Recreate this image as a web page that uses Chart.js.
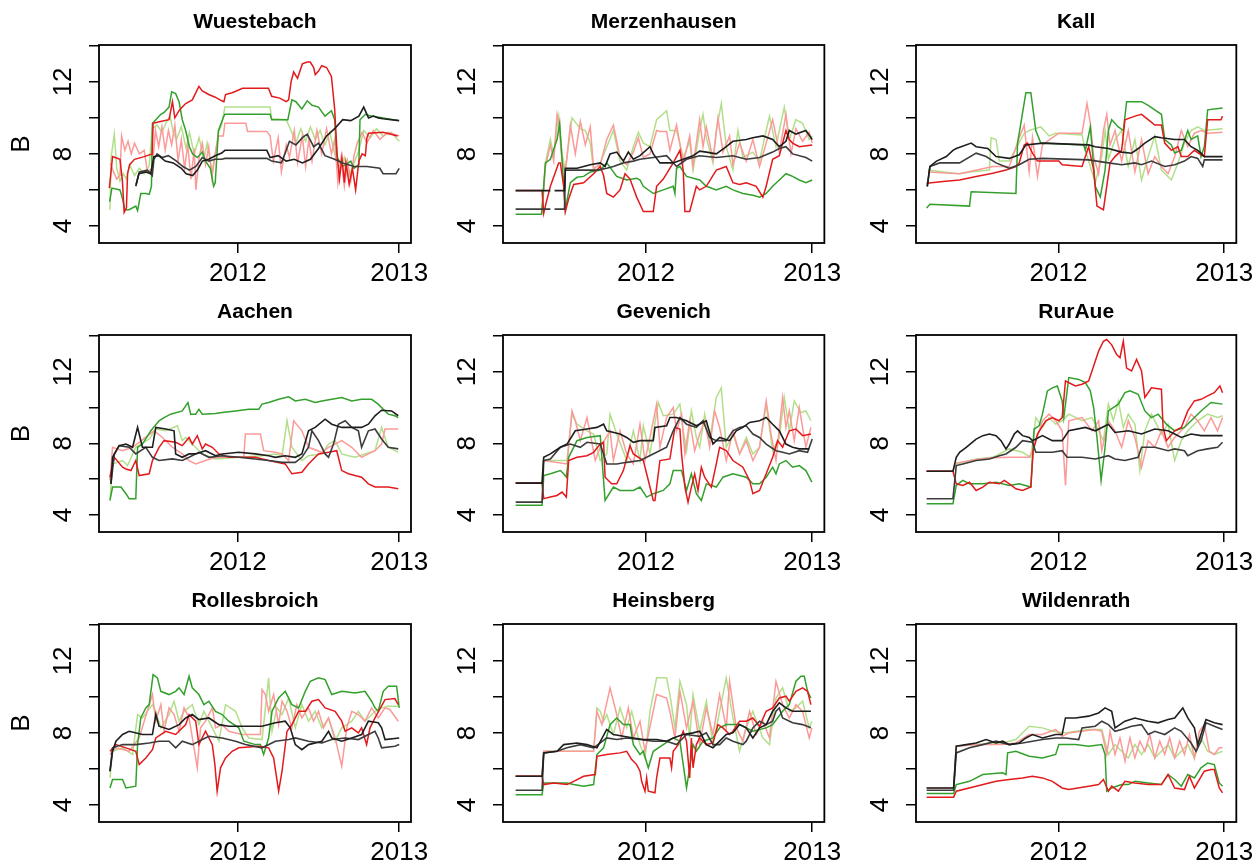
<!DOCTYPE html>
<html>
<head>
<meta charset="utf-8">
<script src="https://cdn.jsdelivr.net/npm/chart.js@4"></script>
<style>
  body { margin: 0; background: #fff; width: 1259px; height: 865px; overflow: hidden; position: relative; }
  canvas { position: absolute; }
</style>
</head>
<body>
<script>
// x values are years after 2011, y values are B; pairs [t, B, t, B, ...]; null = gap
const YEAR0 = 2011;
const sites = ["Wuestebach", "Merzenhausen", "Kall", "Aachen", "Gevenich", "RurAue", "Rollesbroich", "Heinsberg", "Wildenrath"];
const xTicks = [2012, 2013];
const yTicks = [4, 6, 8, 10, 12, 14];
const yLabels = [4, 8, 12];

// Wuestebach
const wueK1 = [.368,6.2, .387,6.9, .43,7.0, .46,6.9, .48,7.85, .51,7.9, .55,7.6, .6,7.5, .65,7.2, .68,6.9, .72,6.8, .75,7.1, .78,7.6, .82,7.7, .86,7.9, .9,8.05, .92,8.2, 1.18,8.2, 1.2,7.8, 1.25,7.9, 1.3,7.6, 1.35,7.7, 1.4,7.5, 1.45,7.7, 1.5,8.3, 1.55,9.0, 1.6,9.4, 1.65,9.9, 1.7,9.85, 1.75,10.1, 1.78,10.6, 1.81,10.0, 1.84,10.1, 1.87,10.0, 1.9,9.95, 2.0,9.85];
const wueK2 = [.37,6.3, .39,7.0, .44,7.1, .47,6.8, .48,7.7, .5,8.0, .53,7.8, .57,7.9, .62,7.6, .66,7.3, .7,7.1, .74,7.3, .78,7.8, .82,7.6, .86,7.7, .9,7.7, .92,7.75, 1.18,7.75, 1.21,7.6, 1.27,7.5, 1.3,8.2, 1.32,8.7, 1.36,8.5, 1.4,8.9, 1.43,9.1, 1.47,8.4, 1.5,8.6, 1.54,7.9, 1.6,7.7, 1.65,7.5, 1.72,7.3, 1.8,7.3, 1.88,7.2, 1.9,6.9, 1.98,6.9, 2.0,7.2];
const wueRed = [.204,6.1, .224,7.85, .27,7.7, .285,6.5, .296,4.75, .31,5.0, .317,6.9, .33,7.4, .36,7.7, .42,7.85, .47,8.0, .475,9.7, .52,9.8, .574,9.9, .595,10.9, .61,10.0, .636,10.4, .656,10.6, .677,10.8, .718,11.0, .759,11.75, .78,11.5, .82,11.3, .86,11.15, .9,10.95, .914,10.9, .924,11.3, .965,11.4, 1.03,11.65, 1.19,11.65, 1.21,11.2, 1.26,11.1, 1.3,10.9, 1.315,11.0, 1.33,12.0, 1.346,12.55, 1.37,12.2, 1.4,13.0, 1.43,13.1, 1.449,13.1, 1.47,12.8, 1.48,12.4, 1.5,12.6, 1.52,12.9, 1.55,12.8, 1.58,12.3, 1.6,10.5, 1.615,8.0, 1.63,6.6, 1.645,7.8, 1.66,6.4, 1.67,7.5, 1.69,6.3, 1.71,7.2, 1.73,6.0, 1.75,7.6, 1.77,8.0, 1.79,7.9, 1.8,8.9, 1.81,9.15, 1.9,9.2, 1.99,9.0];
const wueGreen = [.206,5.35, .22,6.1, .27,6.0, .286,5.5, .3,4.9, .327,4.9, .368,5.1, .379,4.85, .399,5.8, .43,5.8, .451,5.75, .465,6.2, .471,9.7, .492,9.9, .523,10.2, .543,10.3, .574,10.6, .59,11.45, .615,11.35, .636,10.9, .656,9.9, .677,9.3, .7,8.4, .72,8.0, .75,7.8, .78,8.1, .8,7.6, .83,7.2, .85,6.2, .86,6.4, .88,9.3, .914,10.1, .92,10.2, 1.2,10.2, 1.21,9.9, 1.31,9.9, 1.335,11.0, 1.36,10.9, 1.397,10.5, 1.43,10.95, 1.46,10.7, 1.5,10.6, 1.54,10.1, 1.58,10.4, 1.6,9.9, 1.615,7.8, 1.65,7.3, 1.7,7.6, 1.72,7.2, 1.75,7.4, 1.757,9.9, 1.79,10.2, 1.83,10.1, 1.9,10.0, 1.99,9.85];
const wuePink = [.21,7.5, .23,7.0, .25,6.6, .27,6.8, .28,9.0, .3,8.2, .32,8.7, .34,8.0, .36,8.6, .39,8.0, .42,8.2, .44,7.0, .47,7.2, .49,9.3, .51,8.4, .53,9.5, .55,8.2, .57,9.3, .59,8.5, .61,9.6, .63,7.6, .65,8.8, .67,7.2, .69,8.5, .71,6.6, .73,8.3, .74,6.0, .76,7.8, .78,8.6, .8,7.4, .82,8.4, .84,6.7, .86,8.0, .88,9.0, .91,9.0, .92,9.7, 1.05,9.7, 1.06,9.25, 1.18,9.25, 1.2,9.0, 1.22,7.6, 1.25,8.9, 1.27,7.0, 1.3,8.5, 1.32,7.8, 1.35,9.3, 1.37,7.5, 1.4,9.0, 1.42,7.3, 1.44,8.8, 1.46,7.6, 1.49,9.3, 1.52,8.0, 1.55,9.4, 1.58,8.0, 1.6,8.8, 1.62,6.4, 1.64,7.8, 1.66,6.2, 1.68,7.6, 1.7,6.5, 1.72,7.9, 1.74,8.6, 1.77,9.2, 1.8,8.6, 1.84,9.3, 1.88,8.8, 1.93,9.2, 2.0,9.0];
const wueLight = [.208,4.9, .215,7.8, .235,9.1, .25,7.2, .27,6.5, .29,6.9, .31,6.6, .33,7.4, .36,6.8, .39,7.2, .42,6.9, .45,7.3, .47,9.4, .5,9.6, .53,9.2, .56,9.8, .58,10.1, .6,9.2, .62,8.8, .65,9.5, .68,8.3, .7,9.2, .73,8.0, .76,8.9, .79,7.7, .81,8.6, .84,7.0, .86,8.0, .88,9.2, .9,9.6, .92,10.6, 1.2,10.6, 1.21,9.95, 1.3,9.9, 1.33,9.3, 1.36,8.6, 1.39,9.4, 1.42,8.7, 1.45,9.5, 1.48,8.8, 1.51,9.3, 1.54,8.5, 1.57,9.2, 1.6,8.0, 1.63,7.0, 1.66,7.8, 1.69,6.8, 1.72,7.5, 1.75,8.2, 1.78,9.3, 1.82,8.9, 1.86,9.4, 1.9,9.0, 1.95,9.2, 2.0,8.7];

// Merzenhausen
const merK1 = [.216,5.96, .425,5.96, .437,null, .45,5.96, .51,5.96, .515,7.2, .585,7.2, .665,7.4, .725,7.5, .754,7.3, .784,8.0, .824,8.1, .864,7.6, .894,8.1, .924,7.7, .964,7.9, 1.024,8.4, 1.044,8.0, 1.084,7.5, 1.164,7.5, 1.224,7.7, 1.283,7.9, 1.323,8.15, 1.363,8.1, 1.423,8.0, 1.483,8.4, 1.523,8.7, 1.603,8.8, 1.643,8.9, 1.703,9.0, 1.762,8.8, 1.802,8.4, 1.842,8.7, 1.862,9.3, 1.902,9.1, 1.962,9.3, 2.0,8.8];
const merK2 = [.216,4.93, .425,4.93, .437,null, .45,4.93, .51,4.93, .515,7.1, .565,7.1, .705,7.1, .764,7.2, .804,7.3, .864,7.5, .924,7.6, .964,7.7, 1.044,7.8, 1.124,7.9, 1.184,7.3, 1.244,7.7, 1.323,7.9, 1.423,7.8, 1.523,7.9, 1.603,7.7, 1.683,7.8, 1.762,8.1, 1.802,8.3, 1.842,8.4, 1.882,8.0, 1.962,7.8, 2.0,7.6];
const merRed = [.216,5.96, .375,5.96, .385,4.7, .4,5.3, .425,6.2, .475,7.5, .485,7.5, .505,6.2, .515,4.8, .535,5.5, .565,6.3, .625,6.4, .685,6.9, .725,7.3, .745,6.8, .764,5.8, .804,5.6, .844,6.0, .874,6.9, .904,6.6, .944,5.6, .964,5.2, .984,4.8, 1.044,4.8, 1.064,6.2, 1.104,6.6, 1.164,7.5, 1.204,8.2, 1.224,7.1, 1.234,4.8, 1.263,4.8, 1.303,6.2, 1.323,6.0, 1.363,6.2, 1.423,7.1, 1.483,7.3, 1.523,6.4, 1.563,6.3, 1.603,6.4, 1.663,6.2, 1.703,5.6, 1.723,6.2, 1.762,7.7, 1.802,7.9, 1.842,9.3, 1.862,8.8, 1.882,8.6, 1.922,8.4, 2.0,8.5];
const merGreen = [.216,4.65, .372,4.65, .395,7.5, .425,7.7, .465,8.8, .481,9.7, .515,4.9, .545,6.4, .585,6.7, .625,6.75, .665,7.0, .725,7.1, .764,7.5, .824,6.75, .884,6.55, .944,6.65, .964,6.55, .984,6.2, 1.044,5.8, 1.104,6.0, 1.164,6.2, 1.174,5.8, 1.184,7.2, 1.204,7.3, 1.244,6.75, 1.323,6.55, 1.363,6.2, 1.423,6.0, 1.483,6.2, 1.523,6.0, 1.583,5.8, 1.643,5.7, 1.683,5.6, 1.723,5.8, 1.762,6.2, 1.802,6.55, 1.842,6.9, 1.882,6.75, 1.922,6.55, 1.962,6.4, 2.0,6.55];
const merPink = [.375,4.7, .395,7.3, .425,8.5, .445,7.6, .465,10.2, .475,9.8, .495,7.6, .515,7.0, .545,9.6, .575,8.0, .605,9.8, .635,8.5, .665,9.5, .685,7.2, .725,7.4, .764,8.8, .804,9.6, .844,7.8, .884,7.4, .924,8.1, .954,8.9, .984,7.8, 1.024,8.0, 1.064,9.3, 1.084,9.25, 1.124,9.25, 1.144,8.2, 1.184,9.6, 1.224,7.5, 1.263,9.0, 1.283,7.3, 1.323,9.9, 1.343,8.4, 1.363,9.5, 1.403,7.7, 1.433,10.0, 1.463,8.1, 1.503,9.0, 1.523,7.4, 1.563,8.6, 1.603,7.6, 1.643,8.8, 1.683,7.3, 1.723,8.6, 1.762,9.9, 1.802,8.1, 1.842,10.2, 1.872,8.0, 1.902,9.4, 1.942,8.7, 1.982,9.2, 2.0,8.6];
const merLight = [.375,4.7, .395,7.5, .425,8.8, .445,7.9, .465,9.5, .475,10.1, .495,8.0, .515,7.1, .555,10.0, .605,9.4, .635,9.3, .665,8.6, .685,7.1, .725,7.5, .804,9.3, .844,7.6, .884,7.1, .924,8.4, .954,9.2, .984,8.6, 1.024,8.4, 1.064,9.9, 1.124,10.4, 1.144,9.3, 1.184,9.3, 1.224,7.8, 1.263,8.7, 1.283,7.1, 1.323,9.3, 1.343,10.2, 1.363,8.9, 1.403,7.5, 1.423,9.3, 1.453,10.8, 1.483,8.4, 1.523,7.1, 1.553,9.3, 1.583,7.8, 1.643,8.1, 1.683,7.6, 1.723,9.3, 1.743,10.1, 1.782,8.4, 1.832,10.6, 1.862,8.8, 1.902,9.9, 1.942,9.7, 1.982,8.8, 2.0,9.0];

// Kall
const kalK1 = [.208,6.2, .224,7.3, .264,7.6, .323,7.85, .363,8.2, .383,8.3, .473,8.6, .503,8.4, .573,8.3, .623,7.85, .703,7.75, .763,7.95, .803,8.5, .903,8.6, 1.182,8.5, 1.222,8.4, 1.301,8.3, 1.381,8.1, 1.441,8.04, 1.481,8.3, 1.521,8.6, 1.581,8.96, 1.621,8.9, 1.701,8.8, 1.76,8.8, 1.8,8.4, 1.84,8.2, 1.86,8.04, 1.88,7.85, 1.99,7.85];
const kalK2 = [.208,6.2, .224,7.3, .283,7.5, .403,7.5, .503,8.04, .563,7.85, .623,7.5, .703,7.2, .763,7.4, .823,7.7, .903,7.75, 1.182,7.67, 1.301,7.5, 1.381,7.4, 1.461,7.5, 1.501,7.4, 1.561,7.6, 1.641,7.3, 1.701,7.4, 1.76,7.6, 1.8,7.85, 1.84,7.75, 1.87,7.3, 1.88,7.67, 1.99,7.67];
const kalRed = [.204,6.37, .303,6.46, .403,6.55, .503,6.74, .603,6.93, .683,7.1, .743,7.3, .763,7.5, .793,8.5, .813,8.6, .843,8.04, .873,7.6, 1.002,7.6, 1.022,7.4, 1.142,7.3, 1.182,8.4, 1.212,7.1, 1.232,5.1, 1.271,4.9, 1.291,6.2, 1.311,7.5, 1.341,7.85, 1.381,8.2, 1.401,9.9, 1.461,10.1, 1.501,10.2, 1.541,9.9, 1.581,9.6, 1.621,9.6, 1.641,8.6, 1.681,8.2, 1.721,8.4, 1.741,7.85, 1.78,7.85, 1.82,8.2, 1.86,7.95, 1.88,7.85, 1.9,9.9, 1.98,9.9, 1.99,10.1];
const kalGreen = [.204,5.0, .224,5.2, .463,5.1, .473,5.9, .743,5.8, .753,8.6, .803,11.4, .833,11.4, .863,9.3, .893,8.6, 1.152,8.5, 1.162,8.2, 1.192,9.5, 1.222,6.2, 1.252,5.6, 1.281,7.1, 1.301,9.3, 1.321,9.9, 1.361,9.5, 1.391,9.3, 1.411,10.9, 1.501,10.9, 1.541,10.7, 1.581,10.45, 1.621,10.2, 1.641,8.8, 1.681,8.5, 1.701,8.05, 1.741,8.2, 1.78,9.3, 1.8,8.8, 1.84,9.0, 1.86,7.85, 1.88,8.4, 1.9,10.45, 1.99,10.55];
const kalPink = [.214,7.0, .403,6.9, .603,7.3, .703,7.3, .763,8.9, .793,9.6, .823,7.0, .843,8.9, .873,6.75, .903,8.5, .963,8.9, 1.002,9.15, 1.142,9.15, 1.172,10.8, 1.192,9.7, 1.212,7.85, 1.242,6.9, 1.271,9.3, 1.291,10.2, 1.311,8.5, 1.341,9.3, 1.381,7.6, 1.421,9.3, 1.461,7.0, 1.501,8.8, 1.541,6.9, 1.581,7.85, 1.621,7.3, 1.661,6.9, 1.701,7.85, 1.741,9.3, 1.78,8.4, 1.82,9.15, 1.86,9.3, 1.9,9.15, 1.99,9.2];
const kalLight = [.214,7.1, .303,7.0, .403,6.9, .463,7.0, .583,7.1, .593,8.9, .623,8.8, .643,7.6, .703,7.6, .793,9.15, .823,9.3, .893,9.5, .943,9.0, .983,9.15, 1.142,9.05, 1.162,8.2, 1.222,6.4, 1.261,7.85, 1.281,9.3, 1.301,7.7, 1.341,8.8, 1.381,9.3, 1.421,7.3, 1.461,8.8, 1.501,6.55, 1.541,7.85, 1.581,9.0, 1.621,7.1, 1.681,6.55, 1.721,7.5, 1.76,8.6, 1.8,9.3, 1.84,9.5, 1.88,9.3, 1.99,9.4];

// Aachen
const aacK1 = [.214,5.74, .224,7.22, .265,7.87, .307,7.96, .348,7.78, .379,8.89, .409,7.78, .471,7.78, .492,8.89, .553,8.8, .605,8.7, .615,7.41, .656,7.22, .698,7.41, .739,7.41, .8,7.59, .862,7.31, .903,7.41, 1.006,7.5, 1.109,7.41, 1.191,7.31, 1.233,7.22, 1.294,7.31, 1.356,7.22, 1.397,7.41, 1.438,8.7, 1.479,8.89, 1.541,9.35, 1.582,9.07, 1.644,8.89, 1.706,8.89, 1.767,8.89, 1.809,9.07, 1.85,9.54, 1.891,9.85, 1.953,9.81, 1.994,9.54];
const aacK2 = [.214,5.74, .235,7.41, .265,7.87, .327,7.78, .368,7.41, .43,7.78, .471,7.22, .512,7.04, .595,7.13, .656,7.04, .698,7.22, .759,7.5, .821,7.22, .903,7.31, 1.006,7.22, 1.191,7.04, 1.274,6.94, 1.356,6.94, 1.397,7.22, 1.438,7.78, 1.459,8.7, 1.5,8.15, 1.541,7.41, 1.562,7.22, 1.593,7.96, 1.623,9.07, 1.665,9.26, 1.706,8.89, 1.747,8.7, 1.767,7.78, 1.809,8.7, 1.85,8.8, 1.891,8.24, 1.932,7.78, 1.994,7.69];
const aacRed = [.208,6.11, .235,7.22, .286,6.67, .307,6.57, .338,6.48, .368,7.04, .389,6.2, .451,6.3, .471,7.04, .512,7.78, .543,8.15, .615,8.06, .656,7.87, .698,8.33, .718,7.96, .749,8.43, .78,7.69, .8,7.96, .842,7.78, .883,7.41, .944,7.22, 1.109,7.22, 1.191,7.04, 1.294,6.85, 1.335,6.3, 1.397,6.39, 1.438,6.85, 1.5,7.41, 1.562,7.5, 1.613,7.59, 1.644,6.48, 1.685,6.3, 1.726,6.2, 1.767,6.11, 1.809,5.74, 1.85,5.56, 1.932,5.56, 1.994,5.46];
const aacGreen = [.208,4.81, .224,5.56, .276,5.56, .307,5.19, .327,4.91, .368,4.91, .379,7.78, .409,7.96, .461,8.7, .512,9.26, .543,9.44, .584,9.63, .656,9.81, .691,10.28, .708,9.63, .739,9.63, .759,9.9, .78,9.63, .862,9.67, .903,9.72, .986,9.81, 1.068,9.9, 1.13,9.9, 1.15,10.19, 1.191,10.28, 1.253,10.46, 1.315,10.6, 1.356,10.37, 1.418,10.46, 1.479,10.28, 1.521,10.37, 1.582,10.46, 1.644,10.56, 1.706,10.37, 1.767,10.46, 1.829,10.46, 1.87,10.19, 1.901,9.9, 1.932,9.63, 1.973,9.54, 1.994,9.44];
const aacPink = [.208,5.93, .224,7.78, .286,7.59, .348,7.78, .482,8.7, .533,8.33, .595,7.78, .656,7.41, .698,7.04, .739,6.85, .8,7.04, .862,7.22, 1.037,7.22, 1.047,8.52, 1.14,8.52, 1.16,7.59, 1.233,7.5, 1.274,7.41, 1.315,7.04, 1.346,9.26, 1.397,8.7, 1.438,7.78, 1.521,7.5, 1.562,7.78, 1.644,8.15, 1.706,7.78, 1.747,7.41, 1.767,7.22, 1.809,7.41, 1.85,7.59, 1.891,7.96, 1.912,8.8, 1.994,8.8];
const aacLight = [.208,4.81, .224,6.85, .286,7.04, .317,6.76, .368,7.78, .451,8.24, .492,8.8, .553,8.7, .626,8.98, .656,8.15, .677,8.33, .739,7.78, .78,7.41, .862,7.13, 1.006,7.22, 1.15,7.31, 1.233,7.41, 1.274,7.31, 1.305,9.26, 1.335,7.78, 1.397,7.04, 1.438,7.31, 1.521,7.41, 1.562,7.96, 1.603,8.15, 1.644,7.41, 1.685,7.31, 1.726,7.22, 1.788,7.41, 1.85,7.59, 1.891,8.89, 1.932,7.78, 1.994,7.5];

// Gevenich
const gevK1 = [.216,5.78, .375,5.78, .385,7.22, .425,7.41, .485,7.78, .525,7.96, .575,8.7, .645,8.8, .705,8.89, .745,9.07, .764,8.7, .844,8.52, .884,8.33, .924,8.06, .964,8.15, 1.044,8.15, 1.054,8.89, 1.124,8.98, 1.144,9.44, 1.184,9.44, 1.244,9.26, 1.303,8.98, 1.363,9.26, 1.403,7.96, 1.443,8.33, 1.503,8.15, 1.543,8.7, 1.583,8.89, 1.623,9.17, 1.683,9.26, 1.723,9.44, 1.762,9.07, 1.802,8.7, 1.842,7.96, 1.882,7.78, 1.922,7.69, 1.982,7.69];
const gevK2 = [.216,4.72, .375,4.72, .385,7.04, .425,7.13, .485,7.78, .545,7.96, .605,7.78, .645,8.06, .725,7.96, .764,6.85, .824,6.85, .884,6.94, .964,7.04, 1.004,7.22, 1.064,7.5, 1.124,7.78, 1.164,8.7, 1.204,9.44, 1.244,9.07, 1.303,8.89, 1.343,9.26, 1.383,8.33, 1.423,8.15, 1.483,8.15, 1.523,8.7, 1.563,8.89, 1.603,8.98, 1.643,8.52, 1.683,8.33, 1.723,7.96, 1.782,7.59, 1.822,7.5, 1.862,7.41, 1.922,7.59, 1.972,7.5, 2.0,8.24];
const gevRed = [.216,5.78, .375,5.78, .385,4.91, .425,5.0, .465,5.09, .495,5.28, .521,5.0, .535,7.04, .585,7.22, .645,7.31, .685,7.5, .725,7.96, .745,8.06, .754,6.11, .794,5.74, .824,5.74, .864,6.48, .904,7.87, .924,7.41, .984,7.04, 1.024,5.56, 1.044,4.81, 1.054,4.81, 1.064,5.56, 1.084,7.04, 1.144,7.13, 1.174,8.89, 1.204,8.8, 1.214,7.41, 1.234,5.56, 1.253,4.72, 1.273,5.56, 1.293,6.3, 1.313,5.37, 1.333,6.67, 1.353,6.11, 1.393,5.56, 1.423,6.85, 1.443,7.78, 1.483,7.59, 1.523,7.04, 1.583,6.67, 1.623,5.93, 1.643,5.19, 1.683,5.37, 1.723,6.3, 1.762,7.22, 1.792,8.15, 1.822,7.78, 1.862,8.7, 1.902,8.8, 1.942,8.43, 1.992,8.52];
const gevGreen = [.216,4.54, .375,4.54, .385,6.2, .425,6.3, .485,6.48, .505,6.3, .521,6.11, .535,7.22, .585,8.15, .645,8.33, .725,8.43, .754,4.81, .804,5.56, .844,5.37, .924,5.37, .964,5.56, 1.004,5.0, 1.044,5.19, 1.104,5.37, 1.144,5.74, 1.164,6.48, 1.214,6.48, 1.244,5.37, 1.273,6.3, 1.303,5.19, 1.333,4.81, 1.363,5.74, 1.423,5.56, 1.463,6.11, 1.523,6.3, 1.603,6.11, 1.643,5.74, 1.683,5.74, 1.723,6.11, 1.762,6.67, 1.782,6.3, 1.802,6.85, 1.842,7.04, 1.882,6.67, 1.922,6.76, 1.962,6.48, 1.998,5.83];
const gevPink = [.381,7.04, .525,6.85, .555,9.81, .575,9.26, .605,8.15, .645,9.44, .665,8.52, .695,7.04, .725,7.78, .784,8.7, .804,7.04, .844,8.7, .884,7.41, .924,6.85, .964,9.07, .994,7.04, 1.024,8.33, 1.064,10.19, 1.084,7.78, 1.124,9.44, 1.164,10.0, 1.184,8.7, 1.214,9.63, 1.234,7.41, 1.263,9.26, 1.293,7.59, 1.323,8.52, 1.353,9.26, 1.383,7.78, 1.413,9.81, 1.443,8.89, 1.483,7.04, 1.523,8.7, 1.563,7.41, 1.603,8.15, 1.643,7.04, 1.683,7.78, 1.723,10.37, 1.752,8.52, 1.782,7.04, 1.822,10.56, 1.842,8.89, 1.862,9.81, 1.892,8.15, 1.922,10.0, 1.962,7.78, 1.992,8.89];
const gevLight = [.216,5.78, .375,5.78, .381,7.04, .525,7.04, .555,9.63, .585,9.07, .645,8.7, .685,8.52, .725,7.04, .764,7.41, .784,9.63, .824,8.52, .884,7.04, .924,8.7, .964,7.04, .984,8.98, 1.024,7.41, 1.074,10.28, 1.104,9.54, 1.164,9.63, 1.204,10.19, 1.224,8.7, 1.244,7.59, 1.273,9.81, 1.303,8.33, 1.323,7.78, 1.353,9.63, 1.383,8.15, 1.423,10.56, 1.453,11.1, 1.483,7.78, 1.523,8.52, 1.563,7.41, 1.603,8.33, 1.643,7.41, 1.683,7.78, 1.723,10.19, 1.762,7.59, 1.802,8.33, 1.832,10.56, 1.862,8.7, 1.892,10.37, 1.932,9.72, 1.962,9.81, 1.992,9.26];

// RurAue
const rurK1 = [.204,6.44, .363,6.44, .383,7.22, .403,7.5, .443,7.78, .503,8.24, .543,8.43, .583,8.52, .623,8.43, .653,8.15, .683,7.69, .703,7.96, .733,8.52, .753,8.7, .783,8.43, .823,8.33, .843,8.15, .903,8.43, .963,8.15, 1.022,8.15, 1.062,8.7, 1.162,8.89, 1.222,8.7, 1.301,9.07, 1.341,8.61, 1.421,8.7, 1.501,8.52, 1.581,8.8, 1.661,8.7, 1.701,8.52, 1.741,8.33, 1.8,8.52, 1.86,8.43, 1.99,8.43];
const rurK2 = [.204,4.91, .363,4.91, .383,6.76, .423,6.85, .503,7.04, .583,7.13, .643,7.31, .683,7.41, .743,7.78, .783,8.15, .843,8.06, .863,7.5, .963,7.5, 1.022,7.59, 1.052,7.22, 1.142,7.22, 1.222,7.13, 1.301,7.31, 1.341,7.13, 1.401,7.04, 1.481,7.22, 1.501,7.78, 1.581,7.78, 1.661,7.59, 1.701,7.69, 1.76,7.59, 1.78,7.31, 1.84,7.59, 1.9,7.69, 1.96,7.78, 1.99,8.06];
const rurRed = [.204,6.44, .363,6.44, .383,5.74, .423,5.65, .463,5.83, .503,5.37, .543,5.56, .583,5.83, .643,5.74, .673,5.93, .703,5.74, .743,5.46, .783,5.37, .833,5.56, .847,7.59, .873,8.52, .923,9.26, .963,9.44, 1.002,9.26, 1.022,9.44, 1.042,11.48, 1.102,11.2, 1.142,11.3, 1.182,11.48, 1.202,12.04, 1.222,12.6, 1.242,13.15, 1.271,13.7, 1.291,13.8, 1.321,13.5, 1.351,12.96, 1.371,12.78, 1.391,13.7, 1.411,12.2, 1.441,12.04, 1.471,12.69, 1.501,12.04, 1.521,10.56, 1.561,11.1, 1.621,11.02, 1.631,8.89, 1.651,8.15, 1.701,8.7, 1.741,8.89, 1.78,9.81, 1.82,10.37, 1.86,10.46, 1.9,10.65, 1.94,10.83, 1.974,11.2, 1.99,10.83];
const rurGreen = [.204,4.63, .363,4.63, .383,5.65, .423,5.93, .463,5.74, .543,5.74, .623,5.83, .703,5.65, .763,5.74, .833,5.56, .853,8.8, .883,8.98, .903,9.63, .933,10.93, .963,11.1, .993,11.2, 1.022,10.37, 1.032,9.44, 1.062,11.67, 1.122,11.57, 1.162,11.39, 1.192,10.93, 1.212,10.0, 1.232,8.33, 1.257,5.93, 1.281,7.78, 1.301,9.81, 1.361,10.19, 1.401,10.83, 1.431,10.93, 1.481,10.74, 1.521,9.81, 1.561,9.44, 1.601,9.63, 1.651,9.07, 1.701,8.7, 1.76,8.89, 1.8,9.26, 1.86,9.81, 1.92,10.28, 1.99,10.19];
const rurPink = [.204,6.44, .363,6.44, .383,6.9, .503,7.1, .603,7.2, .703,7.22, .823,7.22, .853,7.78, .903,9.26, .943,9.63, .983,9.26, 1.022,8.7, 1.042,5.65, 1.062,9.26, 1.142,9.44, 1.202,8.7, 1.242,9.26, 1.261,7.59, 1.301,9.26, 1.341,8.7, 1.381,7.78, 1.421,9.26, 1.461,8.33, 1.501,6.67, 1.541,8.15, 1.581,7.78, 1.621,8.7, 1.661,7.78, 1.701,8.33, 1.76,8.89, 1.8,9.63, 1.84,9.26, 1.88,8.7, 1.92,9.44, 1.96,8.7, 1.99,9.44];
const rurLight = [.204,6.44, .363,6.44, .383,6.85, .503,7.13, .603,7.22, .703,7.69, .783,7.5, .833,7.22, .853,8.7, .863,9.44, .903,8.89, .943,9.44, .983,9.07, 1.022,9.26, 1.062,9.63, 1.142,9.26, 1.202,9.44, 1.242,8.7, 1.271,8.15, 1.301,10.19, 1.331,9.26, 1.361,10.37, 1.391,8.89, 1.421,9.63, 1.461,9.07, 1.491,6.48, 1.521,8.7, 1.561,9.63, 1.621,8.52, 1.661,9.07, 1.701,7.04, 1.741,8.15, 1.78,8.7, 1.84,9.26, 1.9,9.63, 1.96,9.44, 1.99,9.54];

// Rollesbroich
const rolK1 = [.208,5.87, .224,6.98, .245,7.54, .286,7.91, .327,8.09, .409,7.91, .471,7.91, .492,9.02, .512,8.37, .574,8.19, .636,8.46, .677,8.83, .718,9.02, .759,8.74, .821,8.83, .883,8.46, .944,8.37, 1.15,8.37, 1.233,8.56, 1.294,8.65, 1.325,8.28, 1.356,7.35, 1.397,7.07, 1.438,7.35, 1.521,7.54, 1.562,8.09, 1.582,7.72, 1.644,7.54, 1.706,7.72, 1.767,7.91, 1.809,8.65, 1.87,8.56, 1.891,8.28, 1.912,7.63, 2.0,7.72];
const rolK2 = [.208,5.87, .224,7.17, .286,7.35, .368,7.35, .451,7.44, .512,7.54, .574,7.54, .615,7.17, .656,7.54, .718,7.35, .78,7.63, .821,7.81, .903,7.72, .986,7.54, 1.047,7.35, 1.15,7.17, 1.233,7.54, 1.315,7.63, 1.356,7.72, 1.438,7.54, 1.521,7.44, 1.582,7.63, 1.665,7.72, 1.747,7.63, 1.809,7.91, 1.85,8.09, 1.87,7.72, 1.891,7.17, 1.973,7.26, 2.0,7.35];
const rolRed = [.208,6.98, .245,7.35, .307,7.17, .368,6.98, .389,6.24, .43,6.61, .471,7.07, .492,7.72, .553,8.09, .615,7.91, .677,8.46, .698,9.02, .739,8.65, .759,7.35, .8,8.09, .842,7.35, .858,6.24, .872,4.76, .893,6.06, .924,6.61, .965,6.98, 1.006,7.17, 1.13,7.26, 1.191,7.17, 1.222,6.61, 1.253,4.76, 1.274,5.87, 1.305,8.09, 1.335,8.46, 1.377,9.2, 1.418,9.2, 1.459,9.76, 1.5,9.85, 1.541,9.39, 1.603,9.2, 1.644,8.65, 1.665,8.09, 1.706,8.28, 1.747,8.0, 1.767,8.28, 1.798,7.35, 1.819,8.28, 1.85,8.83, 1.912,9.85, 1.973,9.91, 1.994,9.57];
const rolGreen = [.208,4.94, .224,5.41, .286,5.41, .307,4.94, .368,5.04, .379,7.35, .399,8.83, .43,9.39, .451,9.57, .475,11.24, .502,11.06, .523,10.31, .574,10.13, .615,10.31, .636,10.5, .667,10.13, .698,11.15, .718,10.5, .759,10.13, .79,9.57, .821,9.76, .862,9.2, .903,9.02, .944,8.65, 1.006,8.28, 1.037,7.54, 1.109,7.35, 1.14,7.35, 1.16,6.8, 1.191,7.72, 1.212,9.2, 1.253,9.94, 1.294,10.31, 1.335,9.57, 1.377,9.39, 1.418,10.31, 1.449,10.87, 1.5,11.06, 1.541,10.96, 1.582,10.13, 1.644,10.31, 1.726,10.22, 1.788,10.31, 1.829,9.76, 1.85,9.39, 1.87,9.2, 1.901,10.31, 1.932,10.59, 1.984,10.59, 2.0,9.39];
const rolPink = [.208,6.8, .245,7.17, .327,6.98, .389,7.72, .42,8.65, .471,10.13, .492,8.65, .523,9.57, .543,8.09, .574,9.39, .605,9.02, .636,8.09, .667,9.39, .698,8.83, .749,6.06, .769,8.28, .8,8.65, .842,9.39, .862,8.28, .903,8.46, .944,8.09, 1.027,7.91, 1.14,7.91, 1.15,10.41, 1.171,10.13, 1.191,9.2, 1.222,10.13, 1.253,8.46, 1.274,9.76, 1.305,9.2, 1.335,8.28, 1.366,9.57, 1.397,8.83, 1.438,9.39, 1.469,8.65, 1.5,9.2, 1.531,8.28, 1.562,8.83, 1.603,7.72, 1.644,6.15, 1.675,8.28, 1.706,9.2, 1.747,9.02, 1.788,8.65, 1.829,9.39, 1.87,8.83, 1.912,9.39, 1.942,9.3, 1.994,8.65];
const rolLight = [.208,5.5, .224,6.98, .286,7.17, .348,6.8, .379,9.02, .409,8.83, .471,9.57, .492,9.2, .523,8.28, .574,9.02, .605,9.76, .636,8.65, .667,9.2, .718,9.57, .759,8.46, .79,9.2, .842,8.28, .883,7.54, .924,9.57, .986,9.2, 1.027,8.28, 1.068,7.72, 1.15,7.63, 1.191,11.06, 1.212,8.09, 1.243,9.39, 1.274,9.02, 1.315,9.94, 1.356,8.28, 1.397,9.57, 1.438,8.65, 1.479,9.2, 1.521,8.28, 1.562,8.83, 1.603,7.54, 1.644,8.28, 1.706,8.65, 1.747,9.2, 1.788,8.65, 1.85,9.2, 1.891,9.39, 1.932,9.48, 1.994,9.48];

// Heinsberg
const heiK1 = [.216,5.59, .375,5.59, .385,6.89, .465,6.98, .505,7.35, .585,7.44, .645,7.35, .705,7.17, .764,8.19, .804,7.91, .864,7.81, .924,7.72, .984,7.63, 1.064,7.63, 1.124,7.54, 1.164,7.72, 1.224,7.91, 1.283,8.0, 1.323,8.09, 1.363,7.35, 1.403,7.17, 1.443,7.54, 1.483,7.91, 1.523,8.0, 1.563,8.46, 1.603,8.28, 1.643,7.72, 1.683,8.28, 1.723,8.46, 1.762,9.2, 1.802,9.67, 1.842,9.39, 1.882,9.2, 1.992,9.2];
const heiK2 = [.216,4.81, .375,4.81, .385,6.89, .465,6.98, .525,7.17, .605,7.35, .685,7.17, .725,7.44, .764,7.72, .824,7.63, .884,7.72, .964,7.63, 1.044,7.54, 1.124,7.54, 1.184,7.35, 1.244,7.91, 1.323,7.81, 1.363,8.0, 1.403,7.35, 1.443,7.35, 1.483,7.72, 1.523,7.54, 1.583,7.35, 1.603,7.54, 1.643,8.28, 1.683,8.65, 1.723,8.46, 1.762,8.65, 1.782,9.2, 1.802,9.39, 1.822,8.83, 1.882,8.56, 1.942,8.46, 1.992,8.28];
const heiRed = [.216,5.59, .375,5.59, .385,5.13, .445,5.22, .525,5.13, .565,5.31, .625,5.59, .695,5.69, .705,6.7, .764,6.8, .844,6.89, .884,6.98, .914,6.52, .944,6.24, .964,5.87, .974,5.31, .994,4.76, 1.004,5.5, 1.014,4.76, 1.054,4.67, 1.064,5.5, 1.084,6.61, 1.144,6.61, 1.154,6.06, 1.164,6.98, 1.194,7.35, 1.224,8.09, 1.244,7.54, 1.263,5.5, 1.273,7.72, 1.283,6.06, 1.303,7.35, 1.323,7.72, 1.363,7.35, 1.403,7.44, 1.433,8.46, 1.463,8.28, 1.503,7.91, 1.523,8.09, 1.563,8.65, 1.603,8.65, 1.643,8.83, 1.683,8.37, 1.723,9.2, 1.762,9.39, 1.802,9.94, 1.842,10.04, 1.862,9.76, 1.902,10.31, 1.942,10.5, 1.972,10.31, 1.992,9.57];
const heiGreen = [.216,4.57, .375,4.57, .385,5.22, .525,5.22, .565,5.13, .625,5.04, .685,5.13, .705,6.8, .745,7.17, .784,8.46, .824,8.83, .864,8.46, .904,8.46, .924,7.35, .964,6.8, .984,6.98, 1.014,6.06, 1.044,6.98, 1.104,7.35, 1.164,7.72, 1.204,7.54, 1.244,4.94, 1.263,6.06, 1.283,7.35, 1.303,6.98, 1.343,7.54, 1.403,7.72, 1.443,8.28, 1.483,8.46, 1.563,8.46, 1.643,8.09, 1.723,8.28, 1.762,8.46, 1.822,9.2, 1.862,9.57, 1.902,10.87, 1.932,11.15, 1.952,11.15, 1.972,10.31, 1.992,9.94];
const heiPink = [.216,5.59, .375,5.59, .385,6.98, .685,6.98, .705,9.2, .735,8.46, .784,10.5, .824,9.02, .854,7.72, .894,9.39, .924,7.72, .964,8.65, .994,6.98, 1.024,8.33, 1.064,10.13, 1.124,9.94, 1.144,9.2, 1.174,7.72, 1.204,10.31, 1.244,8.28, 1.283,9.76, 1.323,7.35, 1.363,9.39, 1.403,7.91, 1.443,10.13, 1.483,8.28, 1.503,10.87, 1.543,8.28, 1.583,7.54, 1.623,9.2, 1.663,7.91, 1.703,8.65, 1.743,7.72, 1.782,10.87, 1.822,9.57, 1.862,8.83, 1.902,9.57, 1.942,9.2, 1.982,7.72, 1.998,8.28];
const heiLight = [.216,5.59, .375,5.59, .385,6.98, .685,6.98, .705,9.39, .725,9.2, .745,8.65, .764,9.02, .804,7.91, .844,9.39, .884,8.28, .914,9.2, .964,7.35, .994,6.61, 1.024,9.2, 1.064,11.06, 1.124,11.06, 1.144,10.13, 1.174,8.28, 1.204,10.87, 1.244,9.57, 1.263,7.72, 1.283,10.13, 1.323,8.09, 1.363,9.76, 1.403,7.35, 1.443,9.2, 1.483,11.06, 1.523,8.83, 1.563,6.98, 1.603,8.28, 1.643,9.2, 1.703,7.72, 1.743,7.35, 1.782,9.94, 1.822,10.5, 1.862,9.2, 1.902,9.39, 1.942,9.76, 1.982,8.28, 1.998,8.65];

// Wildenrath
const wilK1 = [.204,4.94, .367,4.94, .383,7.26, .443,7.35, .503,7.44, .563,7.63, .623,7.44, .663,7.54, .703,7.35, .763,7.44, .803,7.72, .843,7.91, .903,7.72, .983,7.91, 1.022,7.91, 1.042,8.83, 1.102,8.83, 1.182,8.93, 1.242,9.11, 1.281,9.39, 1.321,9.2, 1.341,8.28, 1.401,8.65, 1.461,8.83, 1.541,8.65, 1.601,8.56, 1.661,8.74, 1.701,8.83, 1.75,9.39, 1.78,8.83, 1.82,8.28, 1.84,7.35, 1.86,7.91, 1.89,8.74, 1.94,8.56, 1.99,8.46];
const wilK2 = [.204,4.81, .367,4.81, .383,6.89, .463,7.17, .543,7.35, .623,7.54, .703,7.35, .783,7.44, .843,7.54, .903,7.63, .983,7.72, 1.042,7.72, 1.122,7.63, 1.142,8.28, 1.222,8.37, 1.261,8.65, 1.301,8.46, 1.341,8.09, 1.381,8.19, 1.441,8.37, 1.501,8.46, 1.541,7.91, 1.581,8.09, 1.641,7.91, 1.701,8.28, 1.741,8.09, 1.8,7.44, 1.83,6.98, 1.86,7.54, 1.89,8.56, 1.94,8.37, 1.99,8.19];
const wilRed = [.204,4.43, .367,4.43, .383,4.76, .503,5.04, .623,5.31, .703,5.41, .783,5.5, .843,5.59, .903,5.5, .963,5.31, 1.022,4.94, 1.062,4.85, 1.182,5.04, 1.242,5.13, 1.271,5.41, 1.301,4.76, 1.321,5.04, 1.361,4.76, 1.401,5.31, 1.461,5.22, 1.541,5.13, 1.621,5.13, 1.661,5.69, 1.701,4.94, 1.76,4.85, 1.79,5.59, 1.82,4.94, 1.88,5.87, 1.92,5.96, 1.94,5.96, 1.97,4.94, 1.99,4.67];
const wilGreen = [.204,4.63, .367,4.63, .383,5.13, .463,5.31, .543,5.69, .663,5.78, .683,5.69, .693,6.89, .743,6.98, .823,6.7, .903,6.61, .983,6.8, 1.002,7.35, 1.102,7.35, 1.182,7.26, 1.261,7.35, 1.281,6.8, 1.291,4.76, 1.321,4.94, 1.381,5.13, 1.421,5.13, 1.461,5.31, 1.541,5.22, 1.621,5.13, 1.661,5.69, 1.701,5.41, 1.741,5.04, 1.78,5.69, 1.82,5.5, 1.86,6.06, 1.9,6.33, 1.94,6.24, 1.97,5.22, 1.99,5.04];
const wilPink = [.204,4.94, .367,4.94, .383,7.26, .503,7.35, .663,7.35, .743,7.44, .823,7.91, .903,7.91, .983,8.19, 1.022,7.81, 1.062,8.0, 1.142,8.09, 1.222,8.19, 1.261,8.09, 1.291,6.8, 1.311,8.09, 1.341,6.8, 1.371,7.72, 1.401,6.43, 1.431,7.72, 1.461,6.61, 1.491,7.54, 1.521,6.98, 1.551,7.91, 1.581,6.61, 1.611,7.54, 1.641,6.8, 1.671,7.72, 1.701,6.61, 1.731,7.54, 1.76,6.8, 1.79,7.91, 1.82,6.61, 1.85,8.09, 1.88,8.46, 1.91,6.98, 1.94,6.8, 1.97,7.17, 1.99,7.17];
const wilLight = [.204,4.94, .367,4.94, .383,7.26, .503,7.35, .663,7.44, .743,7.63, .823,8.37, .903,8.28, .963,8.09, 1.042,8.0, 1.102,8.09, 1.182,8.19, 1.261,8.19, 1.301,6.8, 1.341,7.35, 1.381,6.98, 1.421,6.61, 1.461,7.35, 1.501,6.8, 1.541,7.35, 1.581,6.61, 1.621,6.98, 1.661,7.35, 1.701,6.61, 1.741,6.98, 1.78,7.35, 1.82,6.61, 1.86,7.72, 1.9,6.98, 1.94,6.8, 1.99,6.98];

// per panel, topmost first: two black, red, green, pink, light green
const panelSeries = [
  [wueK1, wueK2, wueRed, wueGreen, wuePink, wueLight],
  [merK1, merK2, merRed, merGreen, merPink, merLight],
  [kalK1, kalK2, kalRed, kalGreen, kalPink, kalLight],
  [aacK1, aacK2, aacRed, aacGreen, aacPink, aacLight],
  [gevK1, gevK2, gevRed, gevGreen, gevPink, gevLight],
  [rurK1, rurK2, rurRed, rurGreen, rurPink, rurLight],
  [rolK1, rolK2, rolRed, rolGreen, rolPink, rolLight],
  [heiK1, heiK2, heiRed, heiGreen, heiPink, heiLight],
  [wilK1, wilK2, wilRed, wilGreen, wilPink, wilLight]
];
const seriesColors = ["#1e1e1e", "#3c3c3c", "#e31a1c", "#33a02c", "#fb9a99", "#b2df8a"];

// layout of the plot boxes (px)
const boxLeft = [99, 503, 916], boxRight = [413, 826, 1238];
const boxTop = [45, 335, 624], boxBottom = [243, 532, 822];
const Y_AXIS_W = 99, TITLE_H = 45, X_AXIS_H = 43, RIGHT_PAD = 21;
const FONT = '"Liberation Sans", Arial, Helvetica, sans-serif';

function toPoints(arr) {
  const pts = [];
  for (let i = 0; i < arr.length; i += 2) pts.push({ x: YEAR0 + arr[i], y: arr[i + 1] });
  return pts;
}

// box around the plot + rotated y tick labels like R
const boxPlugin = {
  id: "rbox",
  afterDraw(chart) {
    const { ctx, chartArea: a, scales } = chart;
    ctx.save();
    ctx.strokeStyle = "#000";
    ctx.lineWidth = 1.8;
    ctx.strokeRect(a.left, a.top, a.right - a.left, a.bottom - a.top);
    ctx.fillStyle = "#000";
    ctx.font = "26px " + FONT;
    ctx.textAlign = "center";
    ctx.textBaseline = "middle";
    yLabels.forEach(v => {
      ctx.save();
      ctx.translate(a.left - 35, scales.y.getPixelForValue(v));
      ctx.rotate(-Math.PI / 2);
      ctx.fillText(String(v), 0, 0);
      ctx.restore();
    });
    ctx.restore();
  }
};

sites.forEach((name, i) => {
  const col = i % 3, row = Math.floor(i / 3);
  const L = boxLeft[col], R = boxRight[col], T = boxTop[row], B = boxBottom[row];
  const w = R - L + Y_AXIS_W + RIGHT_PAD, h = B - T + TITLE_H + X_AXIS_H;
  const cv = document.createElement("canvas");
  cv.width = w; cv.height = h;
  cv.style.left = (L - Y_AXIS_W) + "px";
  cv.style.top = (T - TITLE_H) + "px";
  cv.style.width = w + "px"; cv.style.height = h + "px";
  document.body.appendChild(cv);

  new Chart(cv, {
    type: "line",
    data: {
      datasets: panelSeries[i].map((s, k) => ({
        data: toPoints(s),
        borderColor: seriesColors[k],
        borderWidth: k < 2 ? 1.6 : 1.5,
        pointRadius: 0,
        tension: 0,
        fill: false,
        spanGaps: false
      }))
    },
    options: {
      responsive: false,
      animation: false,
      events: [],
      layout: { padding: { left: 0, right: RIGHT_PAD, top: 0, bottom: 0 } },
      plugins: {
        legend: { display: false },
        tooltip: { enabled: false },
        title: {
          display: true, text: name, fullSize: false, color: "#000",
          font: { family: FONT, size: 21, weight: "bold" },
          padding: { top: 9.9, bottom: 9.9 }
        }
      },
      scales: {
        x: {
          type: "linear", min: 2011.14, max: 2013.073,
          afterBuildTicks: s => { s.ticks = xTicks.map(v => ({ value: v })); },
          afterFit: s => { s.height = X_AXIS_H; },
          ticks: { color: "#000", font: { family: FONT, size: 26 }, padding: 5, maxRotation: 0, autoSkip: false, callback: v => String(v) },
          grid: { drawOnChartArea: false, drawTicks: true, tickLength: 10, color: "#000", lineWidth: 1.5 },
          border: { display: false }
        },
        y: {
          type: "linear", min: 3.05, max: 14.05,
          afterBuildTicks: s => { s.ticks = yTicks.map(v => ({ value: v })); },
          afterFit: s => { s.width = Y_AXIS_W; },
          ticks: { callback: () => "" },
          grid: { drawOnChartArea: false, drawTicks: true, tickLength: 10, color: "#000", lineWidth: 1.5 },
          border: { display: false },
          title: { display: col === 0, text: "B", color: "#000", font: { family: FONT, size: 26 }, padding: { top: 6, bottom: 0 } }
        }
      }
    },
    plugins: [boxPlugin]
  });
});
</script>
</body>
</html>
